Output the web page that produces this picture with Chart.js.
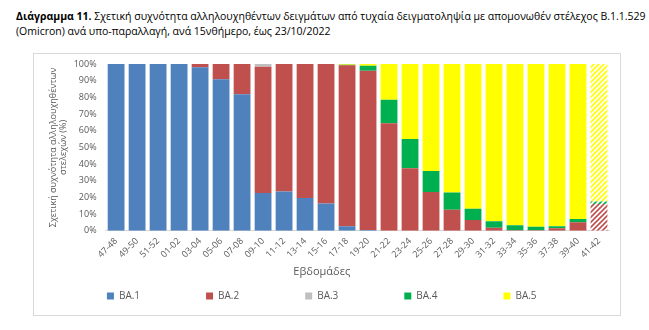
<!DOCTYPE html>
<html>
<head>
<meta charset="utf-8">
<script src="https://cdn.jsdelivr.net/npm/chart.js@4.4.1/dist/chart.umd.min.js"></script>
<style>
  body { margin: 0; background: #fff; width: 649px; height: 330px; position: relative; overflow: hidden; font-family: 'Open Sans', 'Noto Sans', sans-serif; }
  #caption { position: absolute; left: 16px; top: 9px; width: 630px; font-size: 10.5px; line-height: 15px; color: #000; white-space: nowrap; }
  #frame { position: absolute; left: 33px; top: 53px; width: 586px; height: 261px; border: 1px solid #d9d9d9; }
  #frame canvas { display: block; }
</style>
</head>
<body>
<div id="caption"><b>Διάγραμμα 11.</b> Σχετική συχνότητα αλληλουχηθέντων δειγμάτων από τυχαία δειγματοληψία με απομονωθέν στέλεχος B.1.1.529<br>(Omicron) ανά υπο-παραλλαγή, ανά 15νθήμερο, έως 23/10/2022</div>
<div id="frame"><canvas id="variantChart" width="586" height="261"></canvas></div>
<script>
// ========== Data ==========
const weeks = ['47-48', '49-50', '51-52', '01-02', '03-04', '05-06', '07-08', '09-10', '11-12', '13-14', '15-16', '17-18',
  '19-20', '21-22', '23-24', '25-26', '27-28', '29-30', '31-32', '33-34', '35-36', '37-38', '39-40', '41-42'];

const ba1 = [100, 100, 100, 100, 98, 90.8, 81.8, 22.6, 23.5, 19.6, 16.4, 2.8, 0.5, 0, 0, 0, 0, 0, 0, 0, 0, 0, 0, 0];
const ba2 = [0, 0, 0, 0, 2, 9.2, 18.2, 75.8, 76.5, 80.4, 83.6, 96.4, 95.5, 64.5, 37.5, 23.2, 12.6, 6.4, 1.8, 0.4, 0.4, 1.5, 5.2, 16];
const ba3 = [0, 0, 0, 0, 0, 0, 0, 1.6, 0, 0, 0, 0, 0, 0, 0, 0, 0, 0, 0, 0, 0, 0, 0, 0];
const ba4 = [0, 0, 0, 0, 0, 0, 0, 0, 0, 0, 0, 0.3, 3, 14, 17.5, 12.7, 10.4, 6.8, 4, 3, 2, 1.3, 1.8, 1.6];
const ba5 = [0, 0, 0, 0, 0, 0, 0, 0, 0, 0, 0, 0.5, 1, 21.5, 45, 64.1, 77, 86.8, 94.2, 96.6, 97.6, 97.2, 93, 82.4];

// last fortnight is provisional -> drawn hatched
const provisional = '41-42';

const FONT = "'Open Sans', 'Noto Sans', sans-serif";
const GREY_TEXT = '#595959';

// diagonal stripes on white, used for the provisional bar
function hatch(color) {
  const c = document.createElement('canvas');
  c.width = 5;
  c.height = 5;
  const g = c.getContext('2d');
  g.fillStyle = '#fff';
  g.fillRect(0, 0, 5, 5);
  g.strokeStyle = color;
  g.lineWidth = 1.6;
  g.beginPath();
  g.moveTo(-1, 6); g.lineTo(6, -1);
  g.moveTo(-2, 2); g.lineTo(2, -2);
  g.moveTo(3, 7); g.lineTo(7, 3);
  g.stroke();
  return g.createPattern(c, 'repeat');
}

function variant(label, data, color) {
  const pattern = hatch(color);
  return {
    label: label,
    data: data,
    backgroundColor: ctx => (ctx.dataIndex !== undefined && weeks[ctx.dataIndex] === provisional) ? pattern : color,
    borderWidth: 0,
    barPercentage: 0.8,
    categoryPercentage: 1
  };
}

new Chart(document.getElementById('variantChart'), {
  type: 'bar',
  data: {
    labels: weeks,
    datasets: [
      variant('BA.1', ba1, '#4f81bd'),
      variant('BA.2', ba2, '#c0504d'),
      variant('BA.3', ba3, '#bfbfbf'),
      variant('BA.4', ba4, '#00b050'),
      variant('BA.5', ba5, '#ffff00')
    ]
  },
  options: {
    responsive: false,
    animation: false,
    layout: { padding: { left: 0, right: 10.5, top: 10, bottom: 4 } },
    plugins: {
      tooltip: { enabled: false },
      legend: {
        position: 'bottom',
        labels: {
          boxWidth: 7,
          boxHeight: 7,
          padding: 66,
          color: GREY_TEXT,
          font: { family: FONT, size: 10 }
        },
        // empty title with negative padding keeps the wide item spacing from eating vertical space
        title: { display: true, text: '', padding: { top: -76, bottom: 0 }, font: { size: 10 } }
      },
      title: {
        display: true,
        position: 'bottom',
        weight: 500,
        text: 'Εβδομάδες',
        color: GREY_TEXT,
        font: { family: FONT, size: 11, weight: 'normal' },
        padding: { top: 0, bottom: 11 }
      }
    },
    scales: {
      x: {
        stacked: true,
        grid: { display: false, drawTicks: false },
        border: { display: true, color: '#d9d9d9' },
        ticks: {
          color: GREY_TEXT,
          font: { family: FONT, size: 9 },
          maxRotation: 45,
          minRotation: 45,
          padding: 5,
          autoSkip: false
        },
        afterFit: s => { s.height = 34; }
      },
      y: {
        stacked: true,
        min: 0,
        max: 100,
        // hidden tick marks still count toward the label gap, so ticks.padding stays small
        grid: { display: false, drawTicks: true, tickLength: 5 },
        border: { display: false },
        ticks: {
          stepSize: 10,
          color: GREY_TEXT,
          padding: 4,
          font: { family: FONT, size: 9 },
          callback: v => v + '%'
        },
        title: {
          display: true,
          text: ['Σχετική συχνότητα αλληλουχηθέντων', 'στελεχών (%)'],
          color: GREY_TEXT,
          font: { family: FONT, size: 9 },
          padding: { top: 13.6, bottom: 0 }
        },
        afterFit: s => { s.width = 71.6; }
      }
    }
  }
});
</script>
</body>
</html>
